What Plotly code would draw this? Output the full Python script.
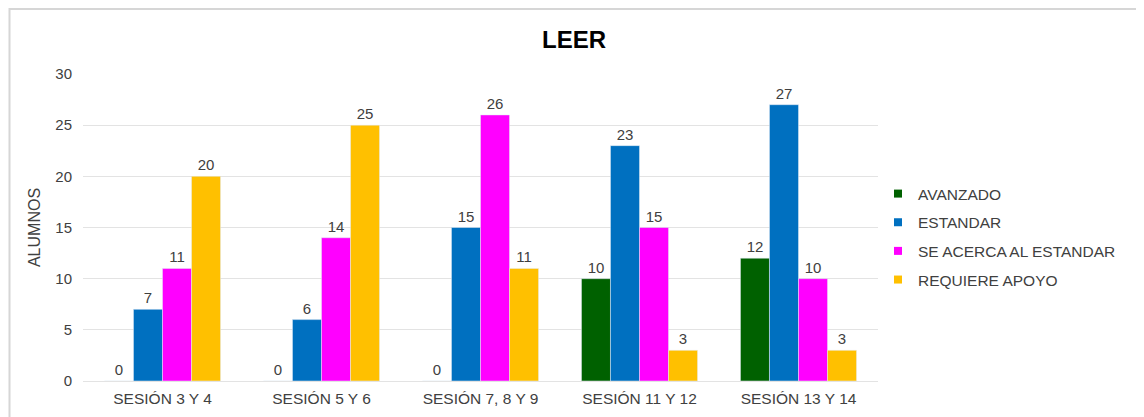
import plotly.graph_objects as go

categories = ["SESIÓN 3 Y 4", "SESIÓN 5 Y 6", "SESIÓN 7, 8 Y 9", "SESIÓN 11 Y 12", "SESIÓN 13 Y 14"]
avanzado = [0, 0, 0, 10, 12]
estandar = [7, 6, 15, 23, 27]
se_acerca = [11, 14, 26, 15, 10]
requiere = [20, 25, 11, 3, 3]

series = [
    ("AVANZADO", avanzado, "#006100"),
    ("ESTANDAR", estandar, "#0070C0"),
    ("SE ACERCA AL ESTANDAR", se_acerca, "#FF00FF"),
    ("REQUIERE APOYO", requiere, "#FFC000"),
]

FONT = "Liberation Sans, Arial, sans-serif"
TXT = "#404040"
fig = go.Figure()
for name, vals, col in series:
    fig.add_trace(go.Bar(
        x=categories, y=vals, name=name, marker_color=col,
        text=[str(v) for v in vals], textposition="outside",
        textfont=dict(family=FONT, size=15, color=TXT),
        cliponaxis=False, showlegend=False,
    ))
# legend entries with small square symbols
for name, vals, col in series:
    fig.add_trace(go.Scatter(
        x=[None], y=[None], mode="markers", name=name,
        marker=dict(symbol="square", size=8, color=col),
        legendgroup=name,
    ))

W, H = 1144, 417
OFF = 8  # page body margin
L, R, T, B = 83 - OFF, W - (878 - OFF), 74 - OFF, H - (381 - OFF)
pw, ph = W - L - R, H - T - B

def px(x):
    return (x - OFF - L) / pw

def py(y):
    return (H - B - (y - OFF)) / ph

fig.update_layout(
    width=W, height=H,
    margin=dict(l=L, r=R, t=T, b=B),
    paper_bgcolor="white", plot_bgcolor="white",
    barmode="group", bargap=0.27, bargroupgap=0,
    font=dict(family=FONT, size=15, color=TXT),
    title=dict(text="<b>LEER</b>", x=(574 - OFF) / W, xref="container", xanchor="center",
               y=1 - (40 - OFF) / H, yanchor="middle",
               font=dict(family=FONT, size=24, color="#000000")),
    showlegend=True,
    legend=dict(x=px(878), xanchor="left", y=0.469, yanchor="middle",
                font=dict(family=FONT, size=15.5, color=TXT),
                tracegroupgap=5.5, traceorder="grouped", itemwidth=30,
                bgcolor="rgba(0,0,0,0)"),
    xaxis=dict(showgrid=False, showline=False, ticks="", ticklabelstandoff=6,
               tickfont=dict(family=FONT, size=15.5, color=TXT)),
    yaxis=dict(range=[0, 30], dtick=5, showgrid=True, gridcolor="#E3E3E3",
               gridwidth=1, zeroline=True, zerolinecolor="#E3E3E3", zerolinewidth=1,
               showline=False, ticks="", ticklabelstandoff=10,
               tickfont=dict(family=FONT, size=15, color=TXT),
               title=dict(text="ALUMNOS", standoff=10,
                          font=dict(family=FONT, size=16, color=TXT))),
    shapes=[dict(type="rect", xref="paper", yref="paper",
                 x0=px(9.5), x1=px(1140.5), y0=py(430), y1=py(9),
                 line=dict(color="#D6D6D6", width=2), fillcolor="rgba(0,0,0,0)",
                 layer="below")],
)

fig.write_html("out.html")
